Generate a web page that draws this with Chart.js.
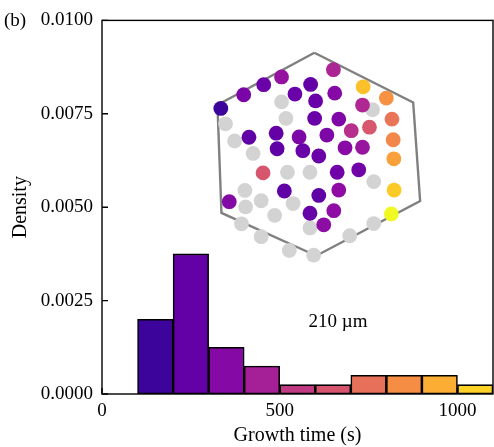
<!DOCTYPE html>
<html>
<head>
<meta charset="utf-8">
<script src="https://cdn.jsdelivr.net/npm/chart.js@4"></script>
<style>
html,body{margin:0;padding:0;background:#fff;}
#wrap{position:relative;width:494px;height:447px;}
#main{position:absolute;left:0;top:0;}
#inset{position:absolute;left:200px;top:36px;}
</style>
</head>
<body>
<div id="wrap">
<canvas id="main" width="494" height="447"></canvas>
<canvas id="inset" width="240" height="240"></canvas>
</div>
<script>
// ---- Histogram data ----
const binEdges = [100,200,300,400,500,600,700,800,900,1000,1100];
const densities = [0.0020,0.00375,0.00125,0.00075,0.00025,0.00025,0.0005,0.0005,0.0005,0.00025];
const xTickValues = [0,500,1000];
const yTickValues = [0,0.0025,0.005,0.0075,0.01];

// ---- Inset (hexagonal array of sites) ----
const siteX = [14.3,38.7,60,79,134.3,110,93.3,135.7,115.3,166,190.7,165.3,176,79,83.7,114.3,140,196.7,172.7,153.3,19.3,29,44.3,73.3,97.7,127.3,198,74.3,101.7,118.7,146.7,165.3,48.7,198.7,59.3,85.3,109.3,138.3,161.3,177.3,40,82,140,199,23.3,40.7,57.3,91.3,118.7,109.3,134.7,71.7,196,36.3,109.3,124,57.3,151.7,177.3,87.3,113.3];
const siteY = [69.3,54.7,44,35.7,28,43.7,54,53,61.3,46.3,58.3,65.7,70.7,62.3,80,80,80.7,80.7,89.3,93,85.7,104,100,95.7,99.7,97.7,102.7,112.3,114.3,120,111.3,110.7,117.3,123,138,137.3,137.3,137.3,134.7,147.3,156.7,157.3,156.3,156.3,168.7,174.3,167.7,170.7,162,181,178.3,183.3,181.7,192.3,196.7,193.3,206,205,192,220.7,225.7];
const siteGrowthTime = [150,314,270,400,470,250,270,350,270,1005,865,480,null,null,null,270,330,765,660,510,null,null,240,250,325,325,830,240,270,270,360,410,null,910,655,null,null,290,290,null,null,240,380,1030,345,null,null,null,240,260,380,null,1150,null,null,370,null,null,null,null,null];
const hexX = [114,219.3,226.7,116,15,10.7,114];
const hexY = [10,63,168,226.3,180.7,65.7,10];

// ---- plasma colormap ----
const plasmaStops = ['#0d0887','#41049d','#6a00a8','#8f0da4','#b12a90','#cc4778','#e16462','#f2844b','#fca636','#fcce25','#f0f921'];
const colorNorm = {min:50, max:1150};
function hex2rgb(h){return [parseInt(h.slice(1,3),16),parseInt(h.slice(3,5),16),parseInt(h.slice(5,7),16)];}
function plasma(t){
  t=Math.max(0,Math.min(1,t));
  const p=t*(plasmaStops.length-1); const i=Math.min(Math.floor(p),plasmaStops.length-2); const f=p-i;
  const a=hex2rgb(plasmaStops[i]), b=hex2rgb(plasmaStops[i+1]);
  return 'rgb('+a.map((v,k)=>Math.round(v+(b[k]-v)*f)).join(',')+')';
}
function timeColor(v){return plasma((v-colorNorm.min)/(colorNorm.max-colorNorm.min));}

const FONT = "'Liberation Serif', 'DejaVu Serif', serif";
const centers = densities.map((d,i)=>(binEdges[i]+binEdges[i+1])/2);

const framePlugin = {
  id:'frame',
  afterDatasetsDraw(chart){
    const {ctx, chartArea:a, scales:{x,y}} = chart;
    ctx.save();
    ctx.strokeStyle='#000'; ctx.lineWidth=1.4;
    ctx.beginPath();
    x.ticks.forEach(t=>{const px=x.getPixelForValue(t.value); ctx.moveTo(px,a.bottom); ctx.lineTo(px,a.bottom-6);});
    y.ticks.forEach(t=>{const py=y.getPixelForValue(t.value); ctx.moveTo(a.left,py); ctx.lineTo(a.left+6,py);});
    ctx.stroke();
    ctx.strokeRect(a.left,a.top,a.right-a.left,a.bottom-a.top);
    ctx.fillStyle='#000';
    ctx.font='19px '+FONT;
    ctx.textBaseline='alphabetic';
    ctx.textAlign='left';
    ctx.fillText('(b)',4,26);
    ctx.textAlign='center';
    ctx.fillText('210 µm',338,327);
    ctx.restore();
  }
};

new Chart(document.getElementById('main'),{
  type:'bar',
  data:{datasets:[{
    data: densities.map((d,i)=>({x:centers[i], y:d})),
    backgroundColor: centers.map(timeColor),
    borderColor:'#000', borderWidth:1.6, borderSkipped:false,
    barPercentage:1, categoryPercentage:1
  }]},
  options:{
    responsive:false, animation:false, events:[],
    layout:{padding:{top:16,right:1,left:0,bottom:0}},
    plugins:{legend:{display:false},tooltip:{enabled:false}},
    scales:{
      x:{type:'linear',min:0,max:1100,offset:false,
        grid:{display:false,drawTicks:false}, border:{display:false},
        afterBuildTicks:s=>{s.ticks=xTickValues.map(v=>({value:v}));},
        afterFit:s=>{s.height=53;},
        ticks:{padding:6,color:'#000',font:{family:FONT,size:19},maxRotation:0,callback:v=>String(v)},
        title:{display:true,text:'Growth time (s)',color:'#000',font:{family:FONT,size:20,lineHeight:1},padding:{top:0,bottom:1}}
      },
      y:{type:'linear',min:0,max:0.01,
        grid:{display:false,drawTicks:false}, border:{display:false},
        afterBuildTicks:s=>{s.ticks=yTickValues.map(v=>({value:v}));},
        afterFit:s=>{s.width=102;},
        ticks:{padding:9,color:'#000',font:{family:FONT,size:19},callback:v=>Number(v).toFixed(4)},
        title:{display:true,text:'Density',color:'#000',font:{family:FONT,size:20,lineHeight:1},padding:{top:11,bottom:0}}
      }
    }
  },
  plugins:[framePlugin]
});

const colored=[], coloredC=[], gray=[];
siteX.forEach((x,i)=>{
  const g=siteGrowthTime[i];
  if(g===null) gray.push({x:x,y:siteY[i]});
  else {colored.push({x:x,y:siteY[i]}); coloredC.push(timeColor(g));}
});

new Chart(document.getElementById('inset'),{
  type:'scatter',
  data:{datasets:[
    {data:colored, pointBackgroundColor:coloredC, pointBorderWidth:0, pointRadius:7.4, order:1},
    {data:gray, pointBackgroundColor:'#d3d3d3', pointBorderWidth:0, pointRadius:7.4, order:2},
    {type:'line', data:hexX.map((x,i)=>({x:x,y:hexY[i]})), borderColor:'#808080', borderWidth:2.4, pointRadius:0, tension:0, fill:false, order:3}
  ]},
  options:{
    responsive:false, animation:false, events:[],
    layout:{padding:0},
    plugins:{legend:{display:false},tooltip:{enabled:false}},
    scales:{
      x:{type:'linear',min:0,max:240,display:false},
      y:{type:'linear',min:0,max:240,reverse:true,display:false}
    }
  }
});
</script>
</body>
</html>
